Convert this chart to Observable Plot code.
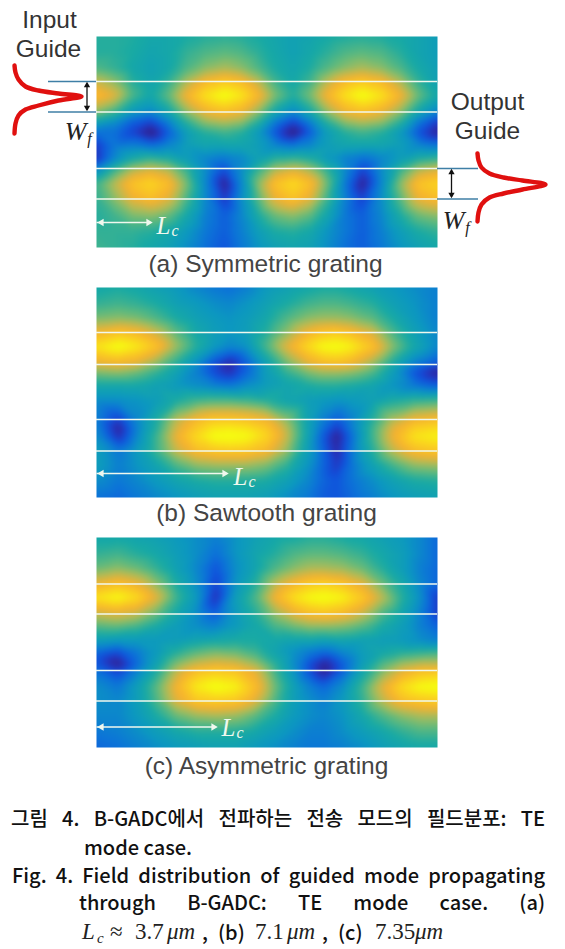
<!DOCTYPE html>
<html><head><meta charset="utf-8">
<script src="https://cdn.jsdelivr.net/npm/d3@7"></script>
<script src="https://cdn.jsdelivr.net/npm/@observablehq/plot@0.6"></script>
<style>
html,body{margin:0;padding:0;background:#fff}
#cap{position:relative;width:565px;height:159px;font-family:"Noto Sans CJK KR","Noto Sans",sans-serif;font-weight:500;font-size:20px;color:#111}
#cap div{position:absolute;white-space:nowrap;line-height:28px}
#cap .j{text-align:justify;text-align-last:justify;white-space:normal}
#cap span{position:absolute;top:0;white-space:nowrap}
#cap .m{font-family:"Liberation Serif",serif;font-weight:400;font-size:23px;color:#222}
#cap .i{font-style:italic}
</style></head><body>
<div id="chart"></div>
<div id="cap">
<div class="j" style="left:11px;width:534px;top:14px">그림 4. B-GADC에서 전파하는 전송 모드의 필드분포: TE</div>
<div style="left:84px;top:43px">mode case.</div>
<div class="j" style="left:12px;width:533px;top:71px">Fig. 4. Field distribution of guided mode propagating</div>
<div class="j" style="left:79px;width:466px;top:98px">through B-GADC: TE mode case. (a)</div>
<div style="left:0;top:128px;width:565px;height:28px">
<span class="m i" style="left:82px">L</span><span class="m i" style="left:97px;top:6px;font-size:15px">c</span>
<span class="m" style="left:110px">≈</span><span class="m" style="left:135px">3.7</span><span class="m i" style="left:167px">μm</span><span style="left:202px">,</span>
<span style="left:218px">(b)</span><span class="m" style="left:255px">7.1</span><span class="m i" style="left:287px">μm</span><span style="left:322px">,</span>
<span style="left:338px">(c)</span><span class="m" style="left:375px">7.35</span><span class="m i" style="left:415px">μm</span>
</div>
</div>
<script>
const aCols=[96,114,132,150,168,186,205,224,241,258,275,293,310,327,345,362,381,400,418,437];
const aRows=[36,52,68,81,95,110,122,132,145,158,170,183,198,215,231,247];
const aField=[
[46,46,45,42,42,44,46,47,46,44,41,38,40,43,45,46,45,43,40,36],
[46,46,44,40,42,48,52,54,52,47,42,38,42,47,52,54,52,46,40,36],
[52,48,42,38,42,52,60,64,60,52,44,40,45,53,60,64,60,52,43,37],
[68,60,46,40,48,64,78,84,79,66,50,42,50,66,79,84,78,64,48,38],
[80,72,52,42,55,76,92,100,93,78,58,46,58,77,92,100,92,76,56,42],
[62,52,36,30,42,62,76,82,77,62,42,30,44,63,77,82,76,62,42,28],
[38,30,18,12,26,46,60,64,60,45,24,12,26,46,60,64,60,46,24,10],
[22,22,12,0,18,36,46,50,46,34,16,0,18,36,46,50,46,34,16,3],
[10,24,26,22,28,36,40,40,40,36,28,24,28,36,40,40,40,36,28,24],
[8,28,42,48,44,36,28,24,28,38,46,48,44,34,26,22,28,36,44,48],
[30,50,66,72,66,50,30,14,30,50,66,72,64,48,28,12,30,50,66,72],
[50,66,82,88,80,58,28,3,28,60,82,90,80,56,24,3,28,60,82,88],
[48,60,74,80,72,52,28,10,30,54,74,82,72,50,26,12,30,54,74,80],
[46,50,58,60,55,42,26,18,28,44,56,60,54,40,24,18,28,44,56,60],
[48,48,48,46,42,34,24,18,26,36,44,46,42,32,24,18,26,36,44,48],
[50,48,46,42,38,30,22,16,24,32,38,40,38,30,22,18,24,32,38,42]];
const bCols=[96,118,136,156,176,196,214,229,246,266,286,308,322,336,350,372,392,414,437];
const bRows=[287,303,318,332,346,363,372,385,400,419,428,436,450,465,480,497];
const bField=[
[42,44,42,38,34,28,24,22,26,34,38,42,44,44,42,38,34,30,26],
[48,50,48,44,38,34,30,28,32,38,44,50,52,52,50,46,38,32,26],
[58,60,58,52,44,38,34,32,35,42,52,60,62,62,60,54,44,34,26],
[76,82,78,68,54,42,36,33,36,46,60,76,82,84,80,70,52,38,28],
[92,100,94,82,62,46,34,28,32,52,72,90,98,100,96,82,60,42,28],
[72,76,72,60,46,30,14,5,18,38,56,72,78,80,76,62,44,26,16],
[58,60,56,48,38,26,14,8,20,36,48,58,62,62,60,52,36,16,3],
[42,42,42,38,34,30,26,24,30,36,40,44,46,46,44,40,32,24,18],
[30,30,32,36,44,50,52,52,50,46,40,36,34,32,34,38,44,48,50],
[26,12,28,44,66,78,84,84,82,76,60,38,26,18,26,46,64,76,80],
[28,4,26,46,70,84,93,94,92,84,66,38,22,10,24,50,72,86,90],
[30,8,28,50,74,90,99,100,98,88,68,38,18,3,20,50,74,92,96],
[36,24,34,50,68,80,84,85,84,78,62,36,20,6,22,46,66,80,84],
[36,26,32,40,52,60,62,62,62,58,48,32,20,10,22,38,50,60,62],
[30,24,28,34,40,44,46,46,46,44,38,28,20,16,22,30,38,44,46],
[22,20,24,28,32,36,38,38,38,36,30,24,18,16,20,26,32,36,38]];
const cCols=[96,117,136,156,176,196,215,235,255,275,295,310,324,342,362,382,402,420,437];
const cRows=[537,553,568,583,597,613,625,640,652,663,670,686,700,715,731,747];
const cField=[
[42,42,40,38,34,30,26,32,38,42,44,46,46,44,42,38,34,28,20],
[48,50,46,42,36,30,22,32,40,46,52,54,54,52,48,42,36,28,20],
[56,60,56,48,38,28,16,30,40,52,60,64,64,62,56,46,36,26,20],
[74,80,74,60,44,30,12,32,46,66,78,84,86,82,72,56,42,28,20],
[92,98,90,72,50,34,8,36,52,76,92,98,100,96,84,66,46,30,10],
[68,72,68,56,42,30,18,34,46,62,74,80,82,78,68,52,40,26,10],
[54,56,52,44,36,30,26,34,42,52,58,62,62,60,54,44,36,26,18],
[36,34,34,34,36,40,42,44,44,42,40,40,38,40,38,36,34,30,26],
[20,14,24,34,46,54,58,56,50,40,30,24,20,28,36,42,46,48,50],
[16,2,20,38,58,68,72,70,62,46,28,14,4,18,36,52,62,66,66],
[22,12,26,44,66,80,84,82,72,50,30,14,2,18,40,58,72,80,82],
[30,24,36,54,76,94,100,96,80,56,36,26,20,30,50,72,90,98,100],
[30,28,36,52,72,84,86,84,72,52,36,30,26,34,48,66,80,84,86],
[28,28,34,44,56,62,64,62,54,44,34,30,28,32,42,52,60,64,64],
[24,26,30,36,42,46,46,46,42,36,30,26,26,30,36,42,48,52,52],
[20,22,26,30,34,36,38,38,34,30,26,24,24,26,30,36,40,42,42]];

const colorStops=[0,8,15,23,33,44,55,64,75,88,98];
const colorRange=["#2c1f80","#2a2fb5","#1050dc","#0c74d8","#0c98c0","#18aaa4","#62ba7c","#aebc58","#f6b030","#fad41e","#f6fc10"];

const panelX=[96,437];
const panels=[
 {cols:aCols,rows:aRows,field:aField,y1:36,y2:247},
 {cols:bCols,rows:bRows,field:bField,y1:287,y2:497},
 {cols:cCols,rows:cRows,field:cField,y1:537,y2:747}];
const guideY=[81,111.5,168,198.5,332,364,419,450.5,583.5,613.5,670,700.5];
const leadLines=[{x1:48,x2:96,y:81},{x1:48,x2:96,y:111.5},{x1:437,x2:478,y:168},{x1:437,x2:478,y:198.5}];
const widthArrows=[{x:86.5,y1:83,y2:109.5},{x:451,y1:170,y2:196.5}];
const widthHeads=[{x:86.5,y:85,r:0},{x:86.5,y:107,r:180},{x:451,y:172,r:0},{x:451,y:194,r:180}];
const lcArrows=[{x2:150,y:222},{x2:226,y:473},{x2:215,y:726.5}];
const lcHeads=[{x:101,y:222,r:-90},{x:148,y:222,r:90},{x:101,y:473,r:-90},{x:224,y:473,r:90},{x:101,y:726.5,r:-90},{x:213,y:726.5,r:90}];
const lcLabels=[{x:156,y:225},{x:233,y:476},{x:221,y:727}];
const inputPulse=[[14,65],[15,72],[18,79],[25,86],[38,90],[58,93],[81,96],[58,100],[38,105],[25,109],[18,115],[15,123],[14,133]];
const outputPulse=[[477,153],[478,160],[481,167],[489,173],[503,177],[522,180],[545,184],[522,189],[503,193],[489,197],[481,204],[478,212],[477,221]];
const guideText=[{t:"Input",x:49,y:20},{t:"Guide",x:48,y:49},{t:"Output",x:487,y:102},{t:"Guide",x:487,y:131}];
const panelText=[{t:"(a) Symmetric grating",x:265,y:264},{t:"(b) Sawtooth grating",x:266,y:513},{t:"(c) Asymmetric grating",x:266,y:766}];
const wLabels=[{x:75,y:131},{x:453,y:220}];

const chart=Plot.plot({
 width:565,height:790,margin:0,
 x:{domain:[0,565],range:[0,565],axis:null},
 y:{domain:[0,790],range:[0,790],axis:null},
 color:{type:"linear",domain:colorStops,range:colorRange,clamp:true},
 marks:[
  ...panels.map(p=>Plot.raster(p.rows.flatMap((y,j)=>p.cols.map((x,i)=>({x,y,v:p.field[j][i]}))),{
    x:"x",y:"y",fill:"v",x1:panelX[0],x2:panelX[1],y1:p.y1,y2:p.y2,
    interpolate:"barycentric",pixelSize:1,blur:2.5,imageRendering:"auto"})),
  Plot.ruleY(guideY,{x1:panelX[0],x2:panelX[1],stroke:"#f0f8ee",strokeWidth:1.3}),
  Plot.ruleY(leadLines,{x1:"x1",x2:"x2",y:"y",stroke:"#3f7fa6",strokeWidth:1.3}),
  Plot.link(widthArrows,{x1:"x",x2:"x",y1:"y1",y2:"y2",stroke:"#111",strokeWidth:1.3}),
  Plot.dot(widthHeads,{x:"x",y:"y",rotate:"r",symbol:"triangle2",r:3,fill:"#111"}),
  Plot.link(lcArrows,{x1:()=>panelX[0],x2:"x2",y1:"y",y2:"y",stroke:"#f0f8ee",strokeWidth:1.3}),
  Plot.dot(lcHeads,{x:"x",y:"y",rotate:"r",symbol:"triangle2",r:3.5,fill:"#f0f8ee"}),
  Plot.line(inputPulse,{x:"0",y:"1",stroke:"#e0100f",strokeWidth:4.4,curve:"catmull-rom"}),
  Plot.line(outputPulse,{x:"0",y:"1",stroke:"#e0100f",strokeWidth:4.4,curve:"catmull-rom"}),
  Plot.text(guideText,{x:"x",y:"y",text:"t",fontSize:24.5,fill:"#333",fontFamily:"Liberation Sans"}),
  Plot.text(panelText,{x:"x",y:"y",text:"t",fontSize:24.5,fill:"#444",fontFamily:"Liberation Sans"}),
  Plot.text(wLabels,{x:"x",y:"y",text:()=>"W",fontSize:26,fill:"#222",fontFamily:"Liberation Serif",fontStyle:"italic"}),
  Plot.text(wLabels,{x:d=>d.x+14,y:d=>d.y+7,text:()=>"f",fontSize:16,fill:"#222",fontFamily:"Liberation Serif",fontStyle:"italic"}),
  Plot.text(lcLabels,{x:"x",y:"y",text:()=>"L",textAnchor:"start",fontSize:25,fill:"#f0f8ee",fontFamily:"Liberation Serif",fontStyle:"italic"}),
  Plot.text(lcLabels,{x:d=>d.x+15,y:d=>d.y+5,text:()=>"c",textAnchor:"start",fontSize:16,fill:"#f0f8ee",fontFamily:"Liberation Serif",fontStyle:"italic"})
 ]
});
document.getElementById("chart").append(chart);
chart.style.display="block";
</script>
</body></html>
